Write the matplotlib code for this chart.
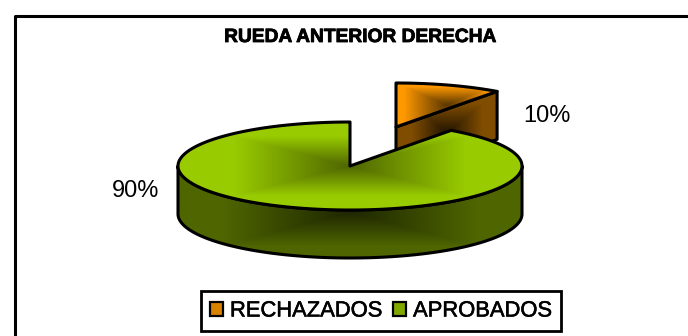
import numpy as np
import matplotlib
matplotlib.use("Agg")
import matplotlib.pyplot as plt
import matplotlib.patheffects as pe
from matplotlib.colors import LinearSegmentedColormap
from matplotlib.patches import Polygon, Patch

title = "RUEDA ANTERIOR DERECHA"
labels = ["RECHAZADOS", "APROBADOS"]
shares = [10, 90]
share_labels = ["10%", "90%"]

plt.rcParams['font.family'] = ['Liberation Sans', 'DejaVu Sans']

fig = plt.figure(figsize=(6.88, 3.36), dpi=100)
ax = fig.add_axes([0, 0, 1, 1])

# pie geometry, in pixels of the picture
cx, cy = 350, 166
a, b = 172, 44
depth = 48
off_x, off_y = 46, -39


def arc(start, end, x0, y0, n=200):
    t = np.radians(np.linspace(start, end, n))
    return np.column_stack([x0 + a * np.cos(t), y0 - b * np.sin(t)])


def shaded(pts, dark, bright, stop, z, lw=2.2):
    # rectangular path gradient over the bounding box, clipped to the polygon
    x0, x1 = pts[:, 0].min(), pts[:, 0].max()
    y0, y1 = pts[:, 1].min(), pts[:, 1].max()
    xx, yy = np.meshgrid(np.linspace(-1, 1, 300), np.linspace(-1, 1, 300))
    t = np.clip(np.maximum(np.abs(xx), np.abs(yy)) / stop, 0, 1)
    cmap = LinearSegmentedColormap.from_list("g", [dark, bright])
    im = ax.imshow(t, extent=(x0, x1, y1, y0), cmap=cmap, vmin=0, vmax=1,
                   aspect="auto", interpolation="bilinear", zorder=z)
    poly = Polygon(pts, closed=True, fc="none", ec="black", lw=lw, joinstyle="round", zorder=z + 0.5)
    ax.add_patch(poly)
    im.set_clip_path(poly)


# the slices run clockwise from 12 o'clock
cut = 90 - 360 * shares[0] / sum(shares)

# orange slice, pulled out
ox, oy = cx + off_x, cy + off_y
orange_arc = arc(90, cut, ox, oy)
tip = orange_arc[-1]
orange_side = np.array([[ox, oy], tip, tip + [0, depth], [ox, oy + depth]])
shaded(orange_side, "#221400", "#804d00", 0.7, 1)
orange_top = np.vstack([[ox, oy], orange_arc])
shaded(orange_top, "#5a3600", "#ff9900", 0.85, 2)

# green slice
front = arc(180, 360, cx, cy)
green_side = np.vstack([front, front[::-1] + [0, depth]])
shaded(green_side, "#1e2600", "#4f6600", 0.75, 3)
green_top = np.vstack([[cx, cy], arc(90, 360 + cut, cx, cy, 500)])
shaded(green_top, "#4f6600", "#99cc00", 0.68, 4)

ax.text(523, 116, share_labels[0], fontsize=17, ha="left", va="center", color="black", zorder=6)
ax.text(112, 191, share_labels[1], fontsize=17, ha="left", va="center", color="black", zorder=6)

ax.text(359.5, 37.5, title, fontsize=13.8, fontweight="bold", ha="center", va="center",
        path_effects=[pe.withStroke(linewidth=0.6, foreground="black")], zorder=6)

# frame has only left and top sides
ax.plot([14.5, 14.5, 688], [336, 15.5, 15.5], color="black", lw=2.2, solid_joinstyle="round", zorder=6)

handles = [Patch(fc="#d98200", ec="black", lw=1.6), Patch(fc="#7fa800", ec="black", lw=1.6)]
leg = ax.legend(handles, labels, loc="center", bbox_to_anchor=(381, 311),
                bbox_transform=ax.transData, ncol=2, fontsize=15.8, frameon=True,
                fancybox=False, framealpha=1, edgecolor="black",
                handlelength=0.6, handleheight=0.6, handletextpad=0.3,
                columnspacing=0.5, borderpad=0.42, borderaxespad=0, labelspacing=0)
leg.get_frame().set_linewidth(2.0)
leg.set_zorder(7)
for txt in leg.get_texts():
    txt.set_path_effects([pe.withStroke(linewidth=0.4, foreground="black")])

ax.set_xlim(0, 688)
ax.set_ylim(336, 0)
ax.axis("off")

fig.savefig("out.png", dpi=100, facecolor="white")
